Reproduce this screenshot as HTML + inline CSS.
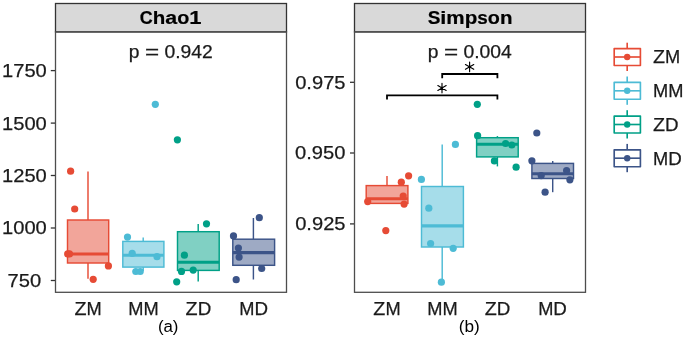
<!DOCTYPE html><html><head><meta charset="utf-8"><style>html,body{margin:0;padding:0;background:#fff;overflow:hidden}svg{display:block;will-change:transform}text{font-family:"Liberation Sans",sans-serif}</style></head><body>
<svg width="685" height="339" viewBox="0 0 685 339">
<rect width="685" height="339" fill="#fff"/>
<rect x="55.5" y="3.5" width="231.0" height="28.4" fill="#d9d9d9" stroke="#333" stroke-width="1.3"/>
<rect x="55.5" y="31.9" width="231.0" height="260.4" fill="none" stroke="#4d4d4d" stroke-width="1.3"/>
<rect x="354.5" y="3.5" width="231.0" height="28.4" fill="#d9d9d9" stroke="#333" stroke-width="1.3"/>
<rect x="354.5" y="31.9" width="231.0" height="260.4" fill="none" stroke="#4d4d4d" stroke-width="1.3"/>
<text x="139.84" y="24" font-size="18.65" textLength="12.92" lengthAdjust="spacingAndGlyphs" font-weight="bold" fill="#000" stroke="#000" stroke-width="0.2">C</text><text x="152.75" y="24" font-size="18.65" textLength="12.53" lengthAdjust="spacingAndGlyphs" font-weight="bold" fill="#000" stroke="#000" stroke-width="0.2">h</text><text x="165.28" y="24" font-size="18.65" textLength="11.88" lengthAdjust="spacingAndGlyphs" font-weight="bold" fill="#000" stroke="#000" stroke-width="0.2">a</text><text x="177.16" y="24" font-size="18.65" textLength="12.09" lengthAdjust="spacingAndGlyphs" font-weight="bold" fill="#000" stroke="#000" stroke-width="0.2">o</text><text x="189.25" y="24" font-size="18.65" textLength="12.25" lengthAdjust="spacingAndGlyphs" font-weight="bold" fill="#000" stroke="#000" stroke-width="0.2">1</text>
<text x="427.68" y="24" font-size="18.65" textLength="12.68" lengthAdjust="spacingAndGlyphs" font-weight="bold" fill="#000" stroke="#000" stroke-width="0.2">S</text><text x="440.36" y="24" font-size="18.65" textLength="6.03" lengthAdjust="spacingAndGlyphs" font-weight="bold" fill="#000" stroke="#000" stroke-width="0.2">i</text><text x="446.39" y="24" font-size="18.65" textLength="18.34" lengthAdjust="spacingAndGlyphs" font-weight="bold" fill="#000" stroke="#000" stroke-width="0.2">m</text><text x="464.73" y="24" font-size="18.65" textLength="12.60" lengthAdjust="spacingAndGlyphs" font-weight="bold" fill="#000" stroke="#000" stroke-width="0.2">p</text><text x="477.33" y="24" font-size="18.65" textLength="10.48" lengthAdjust="spacingAndGlyphs" font-weight="bold" fill="#000" stroke="#000" stroke-width="0.2">s</text><text x="487.81" y="24" font-size="18.65" textLength="12.09" lengthAdjust="spacingAndGlyphs" font-weight="bold" fill="#000" stroke="#000" stroke-width="0.2">o</text><text x="499.90" y="24" font-size="18.65" textLength="12.53" lengthAdjust="spacingAndGlyphs" font-weight="bold" fill="#000" stroke="#000" stroke-width="0.2">n</text>
<text x="128.87" y="57.6" font-size="17.91" textLength="10.73" lengthAdjust="spacingAndGlyphs" fill="#1a1a1a" stroke="#1a1a1a" stroke-width="0.25">p</text><text x="144.97" y="57.6" font-size="17.91" textLength="14.16" lengthAdjust="spacingAndGlyphs" fill="#1a1a1a" stroke="#1a1a1a" stroke-width="0.25">=</text><text x="164.50" y="57.6" font-size="17.91" textLength="10.75" lengthAdjust="spacingAndGlyphs" fill="#1a1a1a" stroke="#1a1a1a" stroke-width="0.25">0</text><text x="175.26" y="57.6" font-size="17.91" textLength="5.37" lengthAdjust="spacingAndGlyphs" fill="#1a1a1a" stroke="#1a1a1a" stroke-width="0.25">.</text><text x="180.63" y="57.6" font-size="17.91" textLength="10.75" lengthAdjust="spacingAndGlyphs" fill="#1a1a1a" stroke="#1a1a1a" stroke-width="0.25">9</text><text x="191.38" y="57.6" font-size="17.91" textLength="10.75" lengthAdjust="spacingAndGlyphs" fill="#1a1a1a" stroke="#1a1a1a" stroke-width="0.25">4</text><text x="202.13" y="57.6" font-size="17.91" textLength="10.75" lengthAdjust="spacingAndGlyphs" fill="#1a1a1a" stroke="#1a1a1a" stroke-width="0.25">2</text>
<text x="427.80" y="57.6" font-size="17.91" textLength="10.73" lengthAdjust="spacingAndGlyphs" fill="#1a1a1a" stroke="#1a1a1a" stroke-width="0.25">p</text><text x="443.90" y="57.6" font-size="17.91" textLength="14.16" lengthAdjust="spacingAndGlyphs" fill="#1a1a1a" stroke="#1a1a1a" stroke-width="0.25">=</text><text x="463.43" y="57.6" font-size="17.91" textLength="10.75" lengthAdjust="spacingAndGlyphs" fill="#1a1a1a" stroke="#1a1a1a" stroke-width="0.25">0</text><text x="474.18" y="57.6" font-size="17.91" textLength="5.37" lengthAdjust="spacingAndGlyphs" fill="#1a1a1a" stroke="#1a1a1a" stroke-width="0.25">.</text><text x="479.56" y="57.6" font-size="17.91" textLength="10.75" lengthAdjust="spacingAndGlyphs" fill="#1a1a1a" stroke="#1a1a1a" stroke-width="0.25">0</text><text x="490.31" y="57.6" font-size="17.91" textLength="10.75" lengthAdjust="spacingAndGlyphs" fill="#1a1a1a" stroke="#1a1a1a" stroke-width="0.25">0</text><text x="501.06" y="57.6" font-size="17.91" textLength="10.75" lengthAdjust="spacingAndGlyphs" fill="#1a1a1a" stroke="#1a1a1a" stroke-width="0.25">4</text>
<line x1="50.8" y1="70.6" x2="55" y2="70.6" stroke="#333" stroke-width="1.3"/>
<text x="2.00" y="77.0" font-size="18.65" textLength="11.20" lengthAdjust="spacingAndGlyphs" fill="#1a1a1a" stroke="#1a1a1a" stroke-width="0.25">1</text><text x="13.20" y="77.0" font-size="18.65" textLength="11.20" lengthAdjust="spacingAndGlyphs" fill="#1a1a1a" stroke="#1a1a1a" stroke-width="0.25">7</text><text x="24.40" y="77.0" font-size="18.65" textLength="11.20" lengthAdjust="spacingAndGlyphs" fill="#1a1a1a" stroke="#1a1a1a" stroke-width="0.25">5</text><text x="35.60" y="77.0" font-size="18.65" textLength="11.20" lengthAdjust="spacingAndGlyphs" fill="#1a1a1a" stroke="#1a1a1a" stroke-width="0.25">0</text>
<line x1="50.8" y1="123.1" x2="55" y2="123.1" stroke="#333" stroke-width="1.3"/>
<text x="2.00" y="129.5" font-size="18.65" textLength="11.20" lengthAdjust="spacingAndGlyphs" fill="#1a1a1a" stroke="#1a1a1a" stroke-width="0.25">1</text><text x="13.20" y="129.5" font-size="18.65" textLength="11.20" lengthAdjust="spacingAndGlyphs" fill="#1a1a1a" stroke="#1a1a1a" stroke-width="0.25">5</text><text x="24.40" y="129.5" font-size="18.65" textLength="11.20" lengthAdjust="spacingAndGlyphs" fill="#1a1a1a" stroke="#1a1a1a" stroke-width="0.25">0</text><text x="35.60" y="129.5" font-size="18.65" textLength="11.20" lengthAdjust="spacingAndGlyphs" fill="#1a1a1a" stroke="#1a1a1a" stroke-width="0.25">0</text>
<line x1="50.8" y1="175.5" x2="55" y2="175.5" stroke="#333" stroke-width="1.3"/>
<text x="2.00" y="181.9" font-size="18.65" textLength="11.20" lengthAdjust="spacingAndGlyphs" fill="#1a1a1a" stroke="#1a1a1a" stroke-width="0.25">1</text><text x="13.20" y="181.9" font-size="18.65" textLength="11.20" lengthAdjust="spacingAndGlyphs" fill="#1a1a1a" stroke="#1a1a1a" stroke-width="0.25">2</text><text x="24.40" y="181.9" font-size="18.65" textLength="11.20" lengthAdjust="spacingAndGlyphs" fill="#1a1a1a" stroke="#1a1a1a" stroke-width="0.25">5</text><text x="35.60" y="181.9" font-size="18.65" textLength="11.20" lengthAdjust="spacingAndGlyphs" fill="#1a1a1a" stroke="#1a1a1a" stroke-width="0.25">0</text>
<line x1="50.8" y1="228.0" x2="55" y2="228.0" stroke="#333" stroke-width="1.3"/>
<text x="2.00" y="234.4" font-size="18.65" textLength="11.20" lengthAdjust="spacingAndGlyphs" fill="#1a1a1a" stroke="#1a1a1a" stroke-width="0.25">1</text><text x="13.20" y="234.4" font-size="18.65" textLength="11.20" lengthAdjust="spacingAndGlyphs" fill="#1a1a1a" stroke="#1a1a1a" stroke-width="0.25">0</text><text x="24.40" y="234.4" font-size="18.65" textLength="11.20" lengthAdjust="spacingAndGlyphs" fill="#1a1a1a" stroke="#1a1a1a" stroke-width="0.25">0</text><text x="35.60" y="234.4" font-size="18.65" textLength="11.20" lengthAdjust="spacingAndGlyphs" fill="#1a1a1a" stroke="#1a1a1a" stroke-width="0.25">0</text>
<line x1="50.8" y1="280.5" x2="55" y2="280.5" stroke="#333" stroke-width="1.3"/>
<text x="7.60" y="286.9" font-size="18.65" textLength="11.20" lengthAdjust="spacingAndGlyphs" fill="#1a1a1a" stroke="#1a1a1a" stroke-width="0.25">7</text><text x="18.80" y="286.9" font-size="18.65" textLength="11.20" lengthAdjust="spacingAndGlyphs" fill="#1a1a1a" stroke="#1a1a1a" stroke-width="0.25">5</text><text x="30.00" y="286.9" font-size="18.65" textLength="11.20" lengthAdjust="spacingAndGlyphs" fill="#1a1a1a" stroke="#1a1a1a" stroke-width="0.25">0</text>
<line x1="350" y1="82.3" x2="354" y2="82.3" stroke="#333" stroke-width="1.3"/>
<text x="295.20" y="88.7" font-size="18.65" textLength="11.20" lengthAdjust="spacingAndGlyphs" fill="#1a1a1a" stroke="#1a1a1a" stroke-width="0.25">0</text><text x="306.39" y="88.7" font-size="18.65" textLength="5.59" lengthAdjust="spacingAndGlyphs" fill="#1a1a1a" stroke="#1a1a1a" stroke-width="0.25">.</text><text x="311.99" y="88.7" font-size="18.65" textLength="11.20" lengthAdjust="spacingAndGlyphs" fill="#1a1a1a" stroke="#1a1a1a" stroke-width="0.25">9</text><text x="323.19" y="88.7" font-size="18.65" textLength="11.20" lengthAdjust="spacingAndGlyphs" fill="#1a1a1a" stroke="#1a1a1a" stroke-width="0.25">7</text><text x="334.38" y="88.7" font-size="18.65" textLength="11.20" lengthAdjust="spacingAndGlyphs" fill="#1a1a1a" stroke="#1a1a1a" stroke-width="0.25">5</text>
<line x1="350" y1="153.0" x2="354" y2="153.0" stroke="#333" stroke-width="1.3"/>
<text x="295.01" y="159.4" font-size="18.65" textLength="11.20" lengthAdjust="spacingAndGlyphs" fill="#1a1a1a" stroke="#1a1a1a" stroke-width="0.25">0</text><text x="306.21" y="159.4" font-size="18.65" textLength="5.59" lengthAdjust="spacingAndGlyphs" fill="#1a1a1a" stroke="#1a1a1a" stroke-width="0.25">.</text><text x="311.80" y="159.4" font-size="18.65" textLength="11.20" lengthAdjust="spacingAndGlyphs" fill="#1a1a1a" stroke="#1a1a1a" stroke-width="0.25">9</text><text x="323.00" y="159.4" font-size="18.65" textLength="11.20" lengthAdjust="spacingAndGlyphs" fill="#1a1a1a" stroke="#1a1a1a" stroke-width="0.25">5</text><text x="334.20" y="159.4" font-size="18.65" textLength="11.20" lengthAdjust="spacingAndGlyphs" fill="#1a1a1a" stroke="#1a1a1a" stroke-width="0.25">0</text>
<line x1="350" y1="223.9" x2="354" y2="223.9" stroke="#333" stroke-width="1.3"/>
<text x="295.20" y="230.3" font-size="18.65" textLength="11.20" lengthAdjust="spacingAndGlyphs" fill="#1a1a1a" stroke="#1a1a1a" stroke-width="0.25">0</text><text x="306.39" y="230.3" font-size="18.65" textLength="5.59" lengthAdjust="spacingAndGlyphs" fill="#1a1a1a" stroke="#1a1a1a" stroke-width="0.25">.</text><text x="311.99" y="230.3" font-size="18.65" textLength="11.20" lengthAdjust="spacingAndGlyphs" fill="#1a1a1a" stroke="#1a1a1a" stroke-width="0.25">9</text><text x="323.19" y="230.3" font-size="18.65" textLength="11.20" lengthAdjust="spacingAndGlyphs" fill="#1a1a1a" stroke="#1a1a1a" stroke-width="0.25">2</text><text x="334.38" y="230.3" font-size="18.65" textLength="11.20" lengthAdjust="spacingAndGlyphs" fill="#1a1a1a" stroke="#1a1a1a" stroke-width="0.25">5</text>
<line x1="88.0" y1="171.5" x2="88.0" y2="220" stroke="#E64B35" stroke-width="1.45"/>
<line x1="88.0" y1="263" x2="88.0" y2="278.8" stroke="#E64B35" stroke-width="1.45"/>
<rect x="67.5" y="220" width="41.20" height="43.00" fill="#F2A59A" stroke="#E64B35" stroke-width="1.45"/>
<line x1="67.5" y1="254.0" x2="108.7" y2="254.0" stroke="#E64B35" stroke-width="3.1"/>
<circle cx="70.6" cy="171.2" r="3.6" fill="#E64B35"/>
<circle cx="74.7" cy="209" r="3.6" fill="#E64B35"/>
<circle cx="67.7" cy="253.9" r="3.6" fill="#E64B35"/>
<circle cx="69.5" cy="253.9" r="3.6" fill="#E64B35"/>
<circle cx="108.4" cy="265.9" r="3.6" fill="#E64B35"/>
<circle cx="93.2" cy="279.3" r="3.6" fill="#E64B35"/>
<line x1="143.2" y1="237.6" x2="143.2" y2="241.4" stroke="#4DBBD5" stroke-width="1.45"/>
<line x1="143.2" y1="267.1" x2="143.2" y2="271" stroke="#4DBBD5" stroke-width="1.45"/>
<rect x="122.8" y="241.4" width="41.10" height="25.70" fill="#A6DDEA" stroke="#4DBBD5" stroke-width="1.45"/>
<line x1="122.8" y1="255.3" x2="163.9" y2="255.3" stroke="#4DBBD5" stroke-width="3.1"/>
<circle cx="155.3" cy="104.3" r="3.6" fill="#4DBBD5"/>
<circle cx="127.5" cy="237.1" r="3.6" fill="#4DBBD5"/>
<circle cx="132.2" cy="253.4" r="3.6" fill="#4DBBD5"/>
<circle cx="157.0" cy="256.7" r="3.6" fill="#4DBBD5"/>
<circle cx="135.8" cy="271.5" r="3.6" fill="#4DBBD5"/>
<circle cx="140.2" cy="271.5" r="3.6" fill="#4DBBD5"/>
<line x1="198.2" y1="224.1" x2="198.2" y2="231.7" stroke="#00A087" stroke-width="1.45"/>
<line x1="198.2" y1="270.4" x2="198.2" y2="281.4" stroke="#00A087" stroke-width="1.45"/>
<rect x="177.5" y="231.7" width="41.70" height="38.70" fill="#80D0C3" stroke="#00A087" stroke-width="1.45"/>
<line x1="177.5" y1="262.2" x2="219.2" y2="262.2" stroke="#00A087" stroke-width="3.1"/>
<circle cx="177.4" cy="139.8" r="3.6" fill="#00A087"/>
<circle cx="206.5" cy="223.8" r="3.6" fill="#00A087"/>
<circle cx="184.4" cy="255.2" r="3.6" fill="#00A087"/>
<circle cx="181.5" cy="271.4" r="3.6" fill="#00A087"/>
<circle cx="193.2" cy="270.1" r="3.6" fill="#00A087"/>
<circle cx="176.7" cy="281.8" r="3.6" fill="#00A087"/>
<line x1="253.4" y1="218" x2="253.4" y2="239.2" stroke="#3C5488" stroke-width="1.45"/>
<line x1="253.4" y1="265.3" x2="253.4" y2="279.5" stroke="#3C5488" stroke-width="1.45"/>
<rect x="232.8" y="239.2" width="41.80" height="26.10" fill="#9EAAC4" stroke="#3C5488" stroke-width="1.45"/>
<line x1="232.8" y1="252.6" x2="274.6" y2="252.6" stroke="#3C5488" stroke-width="3.1"/>
<circle cx="259.3" cy="217.7" r="3.6" fill="#3C5488"/>
<circle cx="233.5" cy="235.9" r="3.6" fill="#3C5488"/>
<circle cx="238.4" cy="248.0" r="3.6" fill="#3C5488"/>
<circle cx="239.1" cy="257.1" r="3.6" fill="#3C5488"/>
<circle cx="261.7" cy="268.5" r="3.6" fill="#3C5488"/>
<circle cx="236.2" cy="279.7" r="3.6" fill="#3C5488"/>
<line x1="387.0" y1="176.1" x2="387.0" y2="185.6" stroke="#E64B35" stroke-width="1.45"/>
<line x1="387.0" y1="203.4" x2="387.0" y2="203.6" stroke="#E64B35" stroke-width="1.45"/>
<rect x="366.2" y="185.6" width="41.70" height="17.80" fill="#F2A59A" stroke="#E64B35" stroke-width="1.45"/>
<line x1="366.2" y1="198.8" x2="407.9" y2="198.8" stroke="#E64B35" stroke-width="3.1"/>
<circle cx="408.6" cy="175.8" r="3.6" fill="#E64B35"/>
<circle cx="401.3" cy="182.2" r="3.6" fill="#E64B35"/>
<circle cx="403.2" cy="196.0" r="3.6" fill="#E64B35"/>
<circle cx="367.7" cy="201.6" r="3.6" fill="#E64B35"/>
<circle cx="404.1" cy="204.1" r="3.6" fill="#E64B35"/>
<circle cx="385.8" cy="230.6" r="3.6" fill="#E64B35"/>
<line x1="442.2" y1="144.4" x2="442.2" y2="186.5" stroke="#4DBBD5" stroke-width="1.45"/>
<line x1="442.2" y1="247" x2="442.2" y2="281.6" stroke="#4DBBD5" stroke-width="1.45"/>
<rect x="421.5" y="186.5" width="41.90" height="60.50" fill="#A6DDEA" stroke="#4DBBD5" stroke-width="1.45"/>
<line x1="421.5" y1="225.9" x2="463.4" y2="225.9" stroke="#4DBBD5" stroke-width="3.1"/>
<circle cx="455.4" cy="144.4" r="3.6" fill="#4DBBD5"/>
<circle cx="421.4" cy="179.4" r="3.6" fill="#4DBBD5"/>
<circle cx="428.8" cy="208.2" r="3.6" fill="#4DBBD5"/>
<circle cx="430.6" cy="243.5" r="3.6" fill="#4DBBD5"/>
<circle cx="453.2" cy="248.3" r="3.6" fill="#4DBBD5"/>
<circle cx="441.4" cy="282.2" r="3.6" fill="#4DBBD5"/>
<line x1="497.4" y1="136.1" x2="497.4" y2="137.7" stroke="#00A087" stroke-width="1.45"/>
<line x1="497.4" y1="156.9" x2="497.4" y2="166.4" stroke="#00A087" stroke-width="1.45"/>
<rect x="476.6" y="137.7" width="41.60" height="19.20" fill="#80D0C3" stroke="#00A087" stroke-width="1.45"/>
<line x1="476.6" y1="144.2" x2="518.2" y2="144.2" stroke="#00A087" stroke-width="3.1"/>
<circle cx="477.3" cy="104.3" r="3.6" fill="#00A087"/>
<circle cx="477.6" cy="135.7" r="3.6" fill="#00A087"/>
<circle cx="505.6" cy="143.5" r="3.6" fill="#00A087"/>
<circle cx="511.8" cy="145.0" r="3.6" fill="#00A087"/>
<circle cx="494.4" cy="160.9" r="3.6" fill="#00A087"/>
<circle cx="516.1" cy="167.2" r="3.6" fill="#00A087"/>
<line x1="552.7" y1="161" x2="552.7" y2="163.4" stroke="#3C5488" stroke-width="1.45"/>
<line x1="552.7" y1="178.5" x2="552.7" y2="192.2" stroke="#3C5488" stroke-width="1.45"/>
<rect x="531.9" y="163.4" width="41.60" height="15.10" fill="#9EAAC4" stroke="#3C5488" stroke-width="1.45"/>
<line x1="531.9" y1="173.8" x2="573.5" y2="173.8" stroke="#3C5488" stroke-width="3.1"/>
<circle cx="536.8" cy="133" r="3.6" fill="#3C5488"/>
<circle cx="531.9" cy="160.8" r="3.6" fill="#3C5488"/>
<circle cx="566.6" cy="170.6" r="3.6" fill="#3C5488"/>
<circle cx="541.2" cy="175.6" r="3.6" fill="#3C5488"/>
<circle cx="569.9" cy="179.8" r="3.6" fill="#3C5488"/>
<circle cx="545.1" cy="192.2" r="3.6" fill="#3C5488"/>
<text x="74.48" y="314.6" font-size="18.65" textLength="12.06" lengthAdjust="spacingAndGlyphs" fill="#1a1a1a" stroke="#1a1a1a" stroke-width="0.25">Z</text><text x="86.54" y="314.6" font-size="18.65" textLength="15.19" lengthAdjust="spacingAndGlyphs" fill="#1a1a1a" stroke="#1a1a1a" stroke-width="0.25">M</text>
<text x="128.31" y="314.6" font-size="18.65" textLength="15.19" lengthAdjust="spacingAndGlyphs" fill="#1a1a1a" stroke="#1a1a1a" stroke-width="0.25">M</text><text x="143.50" y="314.6" font-size="18.65" textLength="15.19" lengthAdjust="spacingAndGlyphs" fill="#1a1a1a" stroke="#1a1a1a" stroke-width="0.25">M</text>
<text x="185.60" y="314.6" font-size="18.65" textLength="12.06" lengthAdjust="spacingAndGlyphs" fill="#1a1a1a" stroke="#1a1a1a" stroke-width="0.25">Z</text><text x="197.65" y="314.6" font-size="18.65" textLength="13.55" lengthAdjust="spacingAndGlyphs" fill="#1a1a1a" stroke="#1a1a1a" stroke-width="0.25">D</text>
<text x="239.33" y="314.6" font-size="18.65" textLength="15.19" lengthAdjust="spacingAndGlyphs" fill="#1a1a1a" stroke="#1a1a1a" stroke-width="0.25">M</text><text x="254.52" y="314.6" font-size="18.65" textLength="13.55" lengthAdjust="spacingAndGlyphs" fill="#1a1a1a" stroke="#1a1a1a" stroke-width="0.25">D</text>
<text x="373.38" y="314.6" font-size="18.65" textLength="12.06" lengthAdjust="spacingAndGlyphs" fill="#1a1a1a" stroke="#1a1a1a" stroke-width="0.25">Z</text><text x="385.44" y="314.6" font-size="18.65" textLength="15.19" lengthAdjust="spacingAndGlyphs" fill="#1a1a1a" stroke="#1a1a1a" stroke-width="0.25">M</text>
<text x="427.21" y="314.6" font-size="18.65" textLength="15.19" lengthAdjust="spacingAndGlyphs" fill="#1a1a1a" stroke="#1a1a1a" stroke-width="0.25">M</text><text x="442.40" y="314.6" font-size="18.65" textLength="15.19" lengthAdjust="spacingAndGlyphs" fill="#1a1a1a" stroke="#1a1a1a" stroke-width="0.25">M</text>
<text x="484.80" y="314.6" font-size="18.65" textLength="12.06" lengthAdjust="spacingAndGlyphs" fill="#1a1a1a" stroke="#1a1a1a" stroke-width="0.25">Z</text><text x="496.85" y="314.6" font-size="18.65" textLength="13.55" lengthAdjust="spacingAndGlyphs" fill="#1a1a1a" stroke="#1a1a1a" stroke-width="0.25">D</text>
<text x="538.13" y="314.6" font-size="18.65" textLength="15.19" lengthAdjust="spacingAndGlyphs" fill="#1a1a1a" stroke="#1a1a1a" stroke-width="0.25">M</text><text x="553.32" y="314.6" font-size="18.65" textLength="13.55" lengthAdjust="spacingAndGlyphs" fill="#1a1a1a" stroke="#1a1a1a" stroke-width="0.25">D</text>
<text x="157.9" y="331.5" font-size="16" text-anchor="start" textLength="20.6" lengthAdjust="spacingAndGlyphs" fill="#000">(a)</text>
<text x="458.8" y="331.5" font-size="16" text-anchor="start" textLength="21.0" lengthAdjust="spacingAndGlyphs" fill="#000">(b)</text>
<path d="M442.2 78.3 V74 H497.4 V78.3" fill="none" stroke="#000" stroke-width="1.8"/>
<path d="M387.0 99.6 V95.3 H497.4 V99.6" fill="none" stroke="#000" stroke-width="1.8"/>
<path d="M469.60 62.10 L469.60 71.70 M465.44 64.50 L473.76 69.30 M473.76 64.50 L465.44 69.30 " stroke="#000" stroke-width="1.15" stroke-linecap="round"/><circle cx="469.6" cy="66.9" r="1.2" fill="#000"/>
<path d="M442.00 83.20 L442.00 92.80 M437.84 85.60 L446.16 90.40 M446.16 85.60 L437.84 90.40 " stroke="#000" stroke-width="1.15" stroke-linecap="round"/><circle cx="442.0" cy="88.0" r="1.2" fill="#000"/>
<line x1="627.2" y1="42.7" x2="627.2" y2="71.0" stroke="#E64B35" stroke-width="1.65"/>
<rect x="614.2" y="48.6" width="26.2" height="16.9" fill="#fff" stroke="#E64B35" stroke-width="1.65" stroke-linejoin="round"/>
<line x1="614.2" y1="57.0" x2="640.4" y2="57.0" stroke="#E64B35" stroke-width="1.65"/>
<circle cx="627.2" cy="57.0" r="3.2" fill="#E64B35"/>
<text x="653.00" y="63.4" font-size="18.65" textLength="12.06" lengthAdjust="spacingAndGlyphs" fill="#1a1a1a" stroke="#1a1a1a" stroke-width="0.25">Z</text><text x="665.06" y="63.4" font-size="18.65" textLength="15.19" lengthAdjust="spacingAndGlyphs" fill="#1a1a1a" stroke="#1a1a1a" stroke-width="0.25">M</text>
<line x1="627.2" y1="76.5" x2="627.2" y2="104.8" stroke="#4DBBD5" stroke-width="1.65"/>
<rect x="614.2" y="82.3" width="26.2" height="16.9" fill="#fff" stroke="#4DBBD5" stroke-width="1.65" stroke-linejoin="round"/>
<line x1="614.2" y1="90.8" x2="640.4" y2="90.8" stroke="#4DBBD5" stroke-width="1.65"/>
<circle cx="627.2" cy="90.8" r="3.2" fill="#4DBBD5"/>
<text x="653.00" y="97.2" font-size="18.65" textLength="15.19" lengthAdjust="spacingAndGlyphs" fill="#1a1a1a" stroke="#1a1a1a" stroke-width="0.25">M</text><text x="668.19" y="97.2" font-size="18.65" textLength="15.19" lengthAdjust="spacingAndGlyphs" fill="#1a1a1a" stroke="#1a1a1a" stroke-width="0.25">M</text>
<line x1="627.2" y1="110.2" x2="627.2" y2="138.5" stroke="#00A087" stroke-width="1.65"/>
<rect x="614.2" y="116.1" width="26.2" height="16.9" fill="#fff" stroke="#00A087" stroke-width="1.65" stroke-linejoin="round"/>
<line x1="614.2" y1="124.5" x2="640.4" y2="124.5" stroke="#00A087" stroke-width="1.65"/>
<circle cx="627.2" cy="124.5" r="3.2" fill="#00A087"/>
<text x="653.00" y="130.9" font-size="18.65" textLength="12.06" lengthAdjust="spacingAndGlyphs" fill="#1a1a1a" stroke="#1a1a1a" stroke-width="0.25">Z</text><text x="665.06" y="130.9" font-size="18.65" textLength="13.55" lengthAdjust="spacingAndGlyphs" fill="#1a1a1a" stroke="#1a1a1a" stroke-width="0.25">D</text>
<line x1="627.2" y1="143.9" x2="627.2" y2="172.2" stroke="#3C5488" stroke-width="1.65"/>
<rect x="614.2" y="149.8" width="26.2" height="16.9" fill="#fff" stroke="#3C5488" stroke-width="1.65" stroke-linejoin="round"/>
<line x1="614.2" y1="158.2" x2="640.4" y2="158.2" stroke="#3C5488" stroke-width="1.65"/>
<circle cx="627.2" cy="158.2" r="3.2" fill="#3C5488"/>
<text x="653.00" y="164.7" font-size="18.65" textLength="15.19" lengthAdjust="spacingAndGlyphs" fill="#1a1a1a" stroke="#1a1a1a" stroke-width="0.25">M</text><text x="668.19" y="164.7" font-size="18.65" textLength="13.55" lengthAdjust="spacingAndGlyphs" fill="#1a1a1a" stroke="#1a1a1a" stroke-width="0.25">D</text>
</svg></body></html>
